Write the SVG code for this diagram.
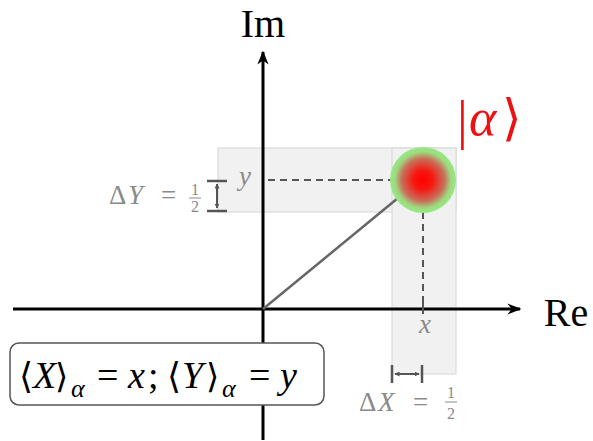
<svg xmlns="http://www.w3.org/2000/svg" width="593" height="441" viewBox="0 0 593 441">
<style>
.serif{font-family:"Liberation Serif","DejaVu Serif",serif}
.it{font-style:italic}
.gray{fill:#8a8a8a}
.band{fill:#f1f1f1;stroke:#d6d6d6;stroke-width:1}
.axis{stroke:#000;stroke-width:3;fill:none}
.dash{stroke:#555;stroke-width:2;stroke-dasharray:7,5;fill:none}
.br{stroke:#555;stroke-width:2.5;fill:none}
.red{fill:#ee1111}
</style>
<defs>
<radialGradient id="g" cx="0.5" cy="0.5" r="0.5">
<stop offset="0" stop-color="#ff0000"/>
<stop offset="0.3" stop-color="#f51a12"/>
<stop offset="0.65" stop-color="#c8705a"/>
<stop offset="0.85" stop-color="#9fd880"/>
<stop offset="1" stop-color="#92ec82"/>
</radialGradient>
<marker id="ah" viewBox="0 0 10 10" refX="9" refY="5" markerWidth="5" markerHeight="5" orient="auto-start-reverse" markerUnits="userSpaceOnUse">
<path d="M0,0 L10,5 L0,10 Z" fill="#555"/>
</marker>
<marker id="axh" viewBox="0 0 10 10" refX="9" refY="5" markerWidth="14" markerHeight="14" orient="auto" markerUnits="userSpaceOnUse">
<path d="M0,1 L10,5 L0,9 L3,5 Z" fill="#000"/>
</marker>
</defs>
<g id="bands">
<rect class="band" x="218" y="148" width="238" height="64"/>
<rect class="band" x="392" y="148" width="64" height="226"/>
</g>
<g id="connectors">
<line class="axis" x1="263" y1="440" x2="263" y2="52" marker-end="url(#axh)"/>
<line class="axis" x1="13" y1="309" x2="520" y2="309" marker-end="url(#axh)"/>
<line x1="263" y1="309" x2="398" y2="198" stroke="#666" stroke-width="2.5"/>
<line class="dash" x1="268" y1="180" x2="392" y2="180"/>
<line class="dash" x1="423" y1="212" x2="423" y2="303"/>
<line x1="423" y1="303" x2="423" y2="314" stroke="#555" stroke-width="2"/>
<line class="br" x1="207" y1="181" x2="227" y2="181"/>
<line class="br" x1="207" y1="211" x2="227" y2="211"/>
<line x1="217" y1="184" x2="217" y2="208" stroke="#555" stroke-width="2" marker-start="url(#ah)" marker-end="url(#ah)"/>
<line class="br" x1="392" y1="365" x2="392" y2="383"/>
<line class="br" x1="422" y1="365" x2="422" y2="383"/>
<line x1="395" y1="374" x2="419" y2="374" stroke="#555" stroke-width="2" marker-start="url(#ah)" marker-end="url(#ah)"/>
</g>
<g id="state">
<circle cx="423" cy="180" r="33" fill="url(#g)"/>
<text class="serif red" x="457" y="138" font-size="54">|</text>
<text class="serif it red" x="469" y="135" font-size="52">α</text>
<text class="serif red" x="502" y="135" font-size="50">⟩</text>
</g>
<g id="labels">
<text class="serif" x="263" y="37" font-size="40" text-anchor="middle">Im</text>
<text class="serif" x="566" y="326" font-size="40" text-anchor="middle">Re</text>
<text class="serif it gray" x="245" y="185" font-size="27" text-anchor="middle">y</text>
<text class="serif it gray" x="425" y="333" font-size="27" text-anchor="middle">x</text>
<text class="serif gray" x="109" y="204" font-size="27">Δ</text>
<text class="serif it gray" x="128" y="204" font-size="27">Y</text>
<text class="serif gray" x="161" y="204" font-size="27">=</text>
<text class="serif gray" x="195" y="195" font-size="16" text-anchor="middle">1</text>
<line x1="189" y1="198" x2="201" y2="198" stroke="#8a8a8a" stroke-width="1"/>
<text class="serif gray" x="195" y="212" font-size="16" text-anchor="middle">2</text>
<text class="serif gray" x="359" y="411" font-size="27">Δ</text>
<text class="serif it gray" x="378" y="411" font-size="27">X</text>
<text class="serif gray" x="413" y="411" font-size="27">=</text>
<text class="serif gray" x="451" y="398" font-size="16" text-anchor="middle">1</text>
<line x1="445" y1="402" x2="457" y2="402" stroke="#8a8a8a" stroke-width="1"/>
<text class="serif gray" x="451" y="419" font-size="16" text-anchor="middle">2</text>
</g>
<g id="box">
<rect x="10" y="343" width="314" height="62" rx="9" fill="#fff" stroke="#555" stroke-width="1.5"/>
<g class="serif" font-size="38">
<text x="19" y="388" font-size="36">⟨</text>
<text class="it" x="33" y="388">X</text>
<text x="55" y="388" font-size="34">⟩</text>
<text class="it" x="71" y="397" font-size="26">α</text>
<text x="97" y="388">=</text>
<text class="it" x="128" y="388">x</text>
<text x="148" y="388">;</text>
<text x="167" y="388" font-size="36">⟨</text>
<text class="it" x="182" y="388">Y</text>
<text x="206" y="388" font-size="34">⟩</text>
<text class="it" x="222" y="397" font-size="26">α</text>
<text x="249" y="388">=</text>
<text class="it" x="280" y="388">y</text>
</g>
</g>
</svg>
